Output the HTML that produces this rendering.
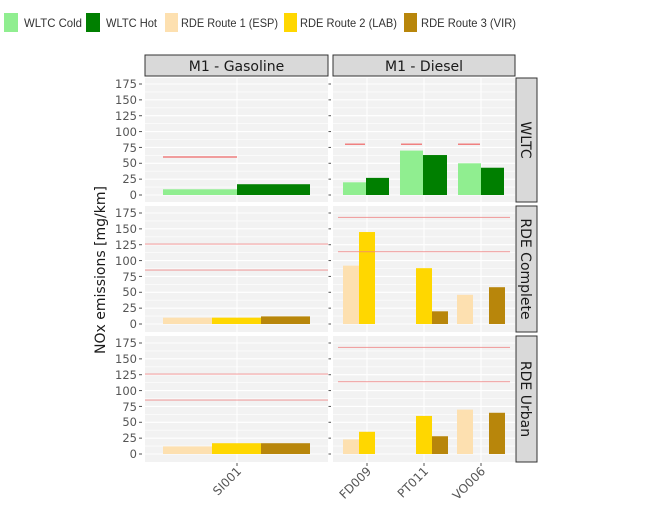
<!DOCTYPE html>
<html><head><meta charset="utf-8"><style>
body{margin:0;background:#fff;width:650px;height:508px;overflow:hidden}
svg{font-family:"DejaVu Sans","Liberation Sans",sans-serif}
</style></head><body>
<svg id="s" width="650" height="508" xmlns="http://www.w3.org/2000/svg">
<!-- legend -->
<g font-family="Liberation Sans, sans-serif" font-size="12" fill="#333">
<rect x="4" y="13" width="14" height="19" fill="#90ee90"/><text x="24" y="27" textLength="58" lengthAdjust="spacingAndGlyphs">WLTC Cold</text>
<rect x="86" y="13" width="14" height="19" fill="#007f00"/><text x="106" y="27" textLength="51" lengthAdjust="spacingAndGlyphs">WLTC Hot</text>
<rect x="165" y="13" width="13" height="19" fill="#fde0b0"/><text x="181" y="27" textLength="97" lengthAdjust="spacingAndGlyphs">RDE Route 1 (ESP)</text>
<rect x="284" y="13" width="13" height="19" fill="#ffd700"/><text x="300" y="27" textLength="97" lengthAdjust="spacingAndGlyphs">RDE Route 2 (LAB)</text>
<rect x="404" y="13" width="13" height="19" fill="#b8860b"/><text x="421" y="27" textLength="95" lengthAdjust="spacingAndGlyphs">RDE Route 3 (VIR)</text>
</g>
<!-- column strips -->
<rect x="145" y="55" width="183" height="21" fill="#d9d9d9" stroke="#333"/><text x="236.5" y="71" font-size="14" text-anchor="middle" fill="#1a1a1a">M1 - Gasoline</text>
<rect x="333" y="55" width="182" height="21" fill="#d9d9d9" stroke="#333"/><text x="424" y="71" font-size="14" text-anchor="middle" fill="#1a1a1a">M1 - Diesel</text>
<!-- row strips -->
<rect x="516" y="78" width="21" height="124" fill="#d9d9d9" stroke="#333"/><text transform="translate(521,140) rotate(90)" font-size="14" text-anchor="middle" fill="#1a1a1a">WLTC</text>
<rect x="516" y="206" width="21" height="126" fill="#d9d9d9" stroke="#333"/><text transform="translate(521,269) rotate(90)" font-size="14" text-anchor="middle" fill="#1a1a1a">RDE Complete</text>
<rect x="516" y="336" width="21" height="126" fill="#d9d9d9" stroke="#333"/><text transform="translate(521,399) rotate(90)" font-size="14" text-anchor="middle" fill="#1a1a1a">RDE Urban</text>
<g id="g"></g>
<!-- y tick labels -->
<g font-size="11.5" fill="#555" text-anchor="end">
<text x="137" y="88">175</text><text x="137" y="104">150</text><text x="137" y="120">125</text><text x="137" y="136">100</text><text x="137" y="152">75</text><text x="137" y="167">50</text><text x="137" y="183">25</text><text x="137" y="199">0</text>
<text x="137" y="217">175</text><text x="137" y="233">150</text><text x="137" y="249">125</text><text x="137" y="265">100</text><text x="137" y="281">75</text><text x="137" y="296">50</text><text x="137" y="312">25</text><text x="137" y="328">0</text>
<text x="137" y="347">175</text><text x="137" y="363">150</text><text x="137" y="379">125</text><text x="137" y="395">100</text><text x="137" y="411">75</text><text x="137" y="426">50</text><text x="137" y="442">25</text><text x="137" y="458">0</text>
</g>
<text transform="translate(105,270) rotate(-90)" font-size="14" text-anchor="middle" fill="#1a1a1a">NOx emissions [mg/km]</text>
<g font-size="12" fill="#555" text-anchor="end">
<text transform="translate(242,472) rotate(-45)">SI001</text>
<text transform="translate(372,472) rotate(-45)">FD009</text>
<text transform="translate(429,472) rotate(-45)">PT011</text>
<text transform="translate(486,472) rotate(-45)">VO006</text>
</g>
</svg>
<script>
var g=document.getElementById('g'),NS='http://www.w3.org/2000/svg';
function el(t,a){var e=document.createElementNS(NS,t);for(var k in a)e.setAttribute(k,a[k]);g.appendChild(e);return e;}
var rows=[[78,202,195],[206,332,324],[336,462,454]],cols=[[145,183],[333,182]],k=111/175;
rows.forEach(function(r){cols.forEach(function(c){
 el('rect',{x:c[0],y:r[0],width:c[1],height:r[1]-r[0],fill:'#f2f2f2'});
 for(var v=0;v<=175;v+=12.5){var y=r[2]-v*k;el('line',{x1:c[0],x2:c[0]+c[1],y1:y,y2:y,stroke:'#fff','stroke-width':v%25?0.6:1.1});}
 [237,367,424,481].forEach(function(x){if(x>c[0]&&x<c[0]+c[1])el('line',{x1:x,x2:x,y1:r[0],y2:r[1],stroke:'#fff','stroke-width':1.1});});
});
 for(var v=0;v<=175;v+=25){var y=r[2]-v*k;el('line',{x1:139,x2:142,y1:y,y2:y,stroke:'#555'});el('line',{x1:328.5,x2:331,y1:y,y2:y,stroke:'#555'});}
});
[237,367,424,481].forEach(function(x){el('line',{x1:x,x2:x,y1:463,y2:466,stroke:'#555'});});
function bar(r,x0,x1,v,c){var y0=rows[r][2];el('rect',{x:x0,y:y0-v*k,width:x1-x0,height:v*k,fill:c});}
function hl(r,x0,x1,v,d){var y=rows[r][2]-v*k;el('line',{x1:x0,x2:x1,y1:y,y2:y,stroke:'#f08080','stroke-width':d?1.2:1.5,'stroke-opacity':d?0.7:1});}
var C='#90ee90',H='#007f00',E='#fde0b0',L='#ffd700',V='#b8860b';
bar(0,163,237,9,C);bar(0,237,310,17,H);hl(0,163,237,60);
bar(0,343,366,20,C);bar(0,366,389,27,H);hl(0,345,365,80);
bar(0,400,423,70,C);bar(0,423,447,63,H);hl(0,401,422,80);
bar(0,458,481,50,C);bar(0,481,504,43,H);hl(0,458,480,80);
bar(1,163,212,10,E);bar(1,212,261,10,L);bar(1,261,310,12,V);
bar(1,343,359,92,E);bar(1,359,375,145,L);bar(1,416,432,88,L);bar(1,432,448,20,V);bar(1,457,473,46,E);bar(1,489,505,58,V);
bar(2,163,212,12,E);bar(2,212,261,17,L);bar(2,261,310,17,V);
bar(2,343,359,23,E);bar(2,359,375,35,L);bar(2,416,432,60,L);bar(2,432,448,28,V);bar(2,457,473,70,E);bar(2,489,505,65,V);
[1,2].forEach(function(r){hl(r,145,328,126,1);hl(r,145,328,85,1);hl(r,338,510,168,1);hl(r,338,510,114,1);});
</script>
</body></html>
